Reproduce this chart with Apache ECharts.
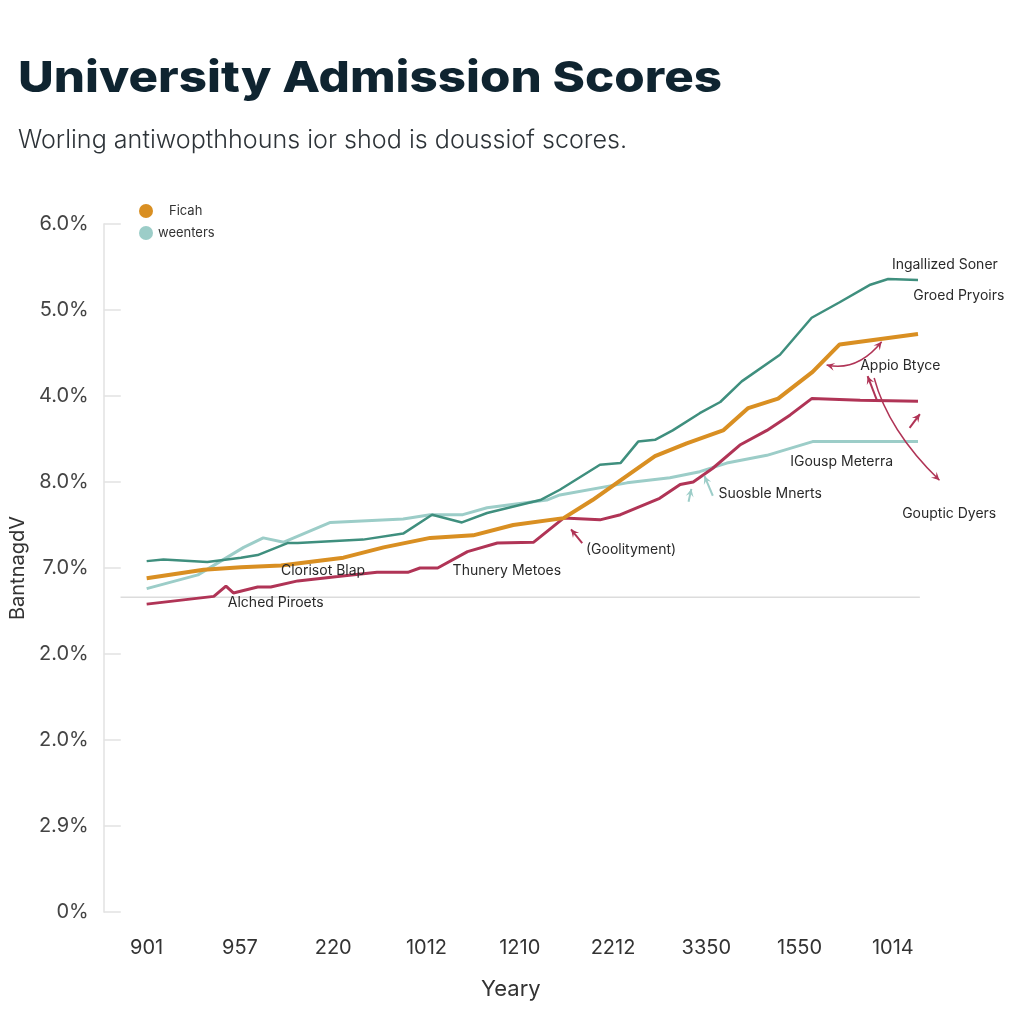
<!DOCTYPE html>
<html><head><meta charset="utf-8">
<script src="https://cdn.jsdelivr.net/npm/echarts@6/dist/echarts.min.js"></script>
<style>html,body{margin:0;padding:0;background:#fff}#c{width:1024px;height:1024px}</style>
</head><body><div id="c"></div>
<script>
// ---- tick labels ----
const xLabels = ['901','957','220','1012','1210','2212','3350','1550','1014'];
const yLabels = ['0%','2.9%','2.0%','2.0%','7.0%','8.0%','4.0%','5.0%','6.0%'];

// ---- series values (x in axis units, y in axis units) ----
const tealX = [0,0.18,0.65,1.01,1.19,1.51,1.62,2.32,2.75,3.06,3.38,3.65,4.22,4.43,4.86,5.08,5.27,5.45,5.64,5.93,6.15,6.38,6.79,7.13,7.43,7.75,7.95,8.27];
const tealY = [4.08,4.10,4.07,4.12,4.15,4.29,4.29,4.33,4.40,4.62,4.53,4.64,4.79,4.91,5.20,5.22,5.47,5.49,5.60,5.80,5.93,6.17,6.48,6.91,7.09,7.29,7.36,7.35];

const orangeX = [0,0.61,1.01,1.44,2.11,2.54,3.04,3.50,3.93,4.47,4.78,5.08,5.45,5.79,6.18,6.45,6.77,7.14,7.43,8.27];
const orangeY = [3.88,3.98,4.01,4.03,4.12,4.24,4.35,4.38,4.50,4.58,4.79,5.02,5.30,5.45,5.60,5.86,5.97,6.28,6.60,6.72];

const crimsonX = [0,0.72,0.85,0.93,1.19,1.33,1.62,2.05,2.47,2.80,2.93,3.12,3.44,3.76,4.15,4.47,4.86,5.08,5.50,5.72,5.86,6.07,6.36,6.65,6.90,7.13,7.65,8.27];
const crimsonY = [3.58,3.67,3.79,3.71,3.78,3.78,3.85,3.90,3.95,3.95,4.00,4.00,4.19,4.29,4.30,4.58,4.56,4.62,4.81,4.97,5.00,5.16,5.43,5.60,5.78,5.97,5.95,5.94];

const lightX = [0,0.55,1.04,1.25,1.47,1.97,2.75,3.04,3.39,3.65,4.29,4.43,5.15,5.61,5.93,6.22,6.65,7.14,8.27];
const lightY = [3.76,3.92,4.24,4.35,4.30,4.53,4.57,4.62,4.62,4.70,4.79,4.85,4.99,5.05,5.12,5.22,5.31,5.47,5.47];

const xTickValues = [0,1,2,3,4,5,6,7,8];

// ---- annotations (data coordinates) ----
const noteTexts = [
  ['Ingallized Soner', 7.99, 7.52],
  ['Groed Pryoirs', 8.22, 7.17],
  ['Appio Btyce', 7.65, 6.35],
  ['IGousp Meterra', 6.90, 5.23],
  ['Suosble Mnerts', 6.13, 4.86],
  ['Gouptic Dyers', 8.10, 4.63],
  ['(Goolityment)', 4.71, 4.21],
  ['Thunery Metoes', 3.28, 3.97],
  ['Clorisot Blap', 1.44, 3.97],
  ['Alched Piroets', 0.87, 3.59]
];
// [fromU, fromV, toU, toV, ctrlU, ctrlV, heads, colorKey]
const noteArrows = [
  [7.29, 6.36, 7.88, 6.63, 7.62, 6.28, 'both', 'c'],
  [7.83, 5.95, 7.73, 6.23, null, null, 'end', 'c'],
  [7.80, 6.21, 8.50, 5.02, 7.95, 5.60, 'end', 'c'],
  [8.18, 5.63, 8.29, 5.79, null, null, 'end', 'c'],
  [4.67, 4.29, 4.55, 4.45, null, null, 'end', 'c'],
  [5.81, 4.77, 5.84, 4.92, null, null, 'end', 'l'],
  [6.07, 4.84, 5.98, 5.07, null, null, 'end', 'l']
];
const refLevel = 3.66;

const titleText = 'University Admission Scores';
const subtitleText = 'Worling antiwopthhouns ior shod is doussiof scores.';

const C = { teal:'#3f8f7e', orange:'#d98f22', crimson:'#b03456', light:'#9ccdc8' };
const pairs = (xs, ys) => xs.map((x, i) => [x, ys[i]]);

const chart = echarts.init(document.getElementById('c'));
const baseFont = 'Inter, "Noto Sans", sans-serif';

chart.setOption({
  backgroundColor: '#ffffff',
  animation: false,
  legend: {
    left: 134, top: 199, orient: 'vertical', itemGap: 8, itemWidth: 14, itemHeight: 14,
    icon: 'circle',
    data: [ { name: 'Ficah' }, { name: 'weenters' } ],
    textStyle: { fontFamily: baseFont, fontSize: 13, color: '#333' },
    formatter: n => n === 'Ficah' ? '   ' + n : n
  },
  grid: { left: 103, right: 106, top: 224, bottom: 112 },
  xAxis: {
    type: 'value', min: -0.46, max: 8.27,
    axisLine: { show: false }, axisTick: { show: false }, splitLine: { show: false },
    axisLabel: { margin: 26, fontFamily: baseFont, fontSize: 20, color: '#333',
      customValues: xTickValues,
      formatter: v => xLabels[Math.round(v)] !== undefined ? xLabels[Math.round(v)] : '' },
    name: 'Yeary', nameLocation: 'middle', nameGap: 66,
    nameTextStyle: { fontFamily: baseFont, fontSize: 22, color: '#333' }
  },
  yAxis: {
    type: 'value', min: 0, max: 8, interval: 1,
    axisLine: { show: true, onZero: false, lineStyle: { color: '#e2e2e2', width: 1.5 } },
    axisTick: { show: true, inside: true, length: 17, lineStyle: { color: '#e2e2e2', width: 1.5 } },
    splitLine: { show: false },
    axisLabel: { margin: 15, fontFamily: baseFont, fontSize: 20, color: '#444',
      formatter: v => yLabels[Math.round(v)] },
    name: 'BantnagdV', nameLocation: 'middle', nameGap: 75, nameRotate: 90,
    nameTextStyle: { fontFamily: baseFont, fontSize: 20, color: '#333' }
  },
  series: [
    { name: 'Gbeen', type: 'line', data: pairs(tealX, tealY), showSymbol: false, symbol: 'none',
      lineStyle: { color: C.teal, width: 2.5 }, itemStyle: { color: C.teal }, z: 3 },
    { name: 'weenters', type: 'line', data: pairs(lightX, lightY), showSymbol: false, symbol: 'none',
      lineStyle: { color: C.light, width: 3 }, itemStyle: { color: C.light }, z: 2 },
    { name: 'Crim', type: 'line', data: pairs(crimsonX, crimsonY), showSymbol: false, symbol: 'none',
      lineStyle: { color: C.crimson, width: 3 }, itemStyle: { color: C.crimson }, z: 4 },
    { name: 'Ficah', type: 'line', data: pairs(orangeX, orangeY), showSymbol: false, symbol: 'none',
      lineStyle: { color: C.orange, width: 4 }, itemStyle: { color: C.orange }, z: 5 }
  ]
});

// text width measurement for fitting the heading widths
const mctx = document.createElement('canvas').getContext('2d');
function widthOf(txt, font) { mctx.font = font; return mctx.measureText(txt).width; }

const graphics = [];
const tFont = '800 43px Inter, "Noto Sans", sans-serif';
const sFont = '300 25px Inter, "Noto Sans", sans-serif';
graphics.push({ type: 'text', x: 18, y: 79, scaleX: 704 / widthOf(titleText, tFont), z: 10,
  style: { text: titleText, font: tFont, fill: '#0f2430', textAlign: 'left', textVerticalAlign: 'middle' } });
graphics.push({ type: 'text', x: 18, y: 140, scaleX: 609 / widthOf(subtitleText, sFont), z: 10,
  style: { text: subtitleText, font: sFont, fill: '#2d3338', textAlign: 'left', textVerticalAlign: 'middle' } });

// annotations built through the grid's coordinate conversion
const px = (u, v) => chart.convertToPixel({ gridIndex: 0 }, [u, v]);
const r0 = px(-0.28, refLevel), r1 = px(8.29, refLevel);
graphics.push({ type: 'line', shape: { x1: r0[0], y1: r0[1], x2: r1[0], y2: r1[1] },
  style: { stroke: '#dcdcdc', lineWidth: 1.5 }, z: 1 });

noteTexts.forEach(([t, u, v]) => {
  const p = px(u, v);
  graphics.push({ type: 'text', x: p[0], y: p[1], z: 10,
    style: { text: t, fill: '#2a2a2a', font: '14px ' + baseFont, textAlign: 'left', textVerticalAlign: 'middle' } });
});

function head(tip, from, color) {
  const dx = tip[0] - from[0], dy = tip[1] - from[1];
  const L = Math.hypot(dx, dy) || 1;
  const ux = dx / L, uy = dy / L, s = 8, w = 4;
  return { type: 'polygon', z: 9,
    shape: { points: [tip, [tip[0] - ux * s - uy * w, tip[1] - uy * s + ux * w],
      [tip[0] - ux * s * 0.6, tip[1] - uy * s * 0.6],
      [tip[0] - ux * s + uy * w, tip[1] - uy * s - ux * w]] },
    style: { fill: color } };
}
noteArrows.forEach(([fu, fv, tu, tv, cu, cv, heads, ck]) => {
  const color = ck === 'c' ? C.crimson : C.light;
  const a = px(fu, fv), b = px(tu, tv);
  let ctrl;
  if (cu !== null) {
    ctrl = px(cu, cv);
    graphics.push({ type: 'bezierCurve', z: 9,
      shape: { x1: a[0], y1: a[1], x2: b[0], y2: b[1], cpx1: ctrl[0], cpy1: ctrl[1] },
      style: { stroke: color, lineWidth: 1.5, fill: null } });
  } else {
    graphics.push({ type: 'line', z: 9, shape: { x1: a[0], y1: a[1], x2: b[0], y2: b[1] },
      style: { stroke: color, lineWidth: 2 } });
  }
  graphics.push(head(b, ctrl || a, color));
  if (heads === 'both') graphics.push(head(a, ctrl || b, color));
});
chart.setOption({ graphic: graphics });
</script></body></html>
